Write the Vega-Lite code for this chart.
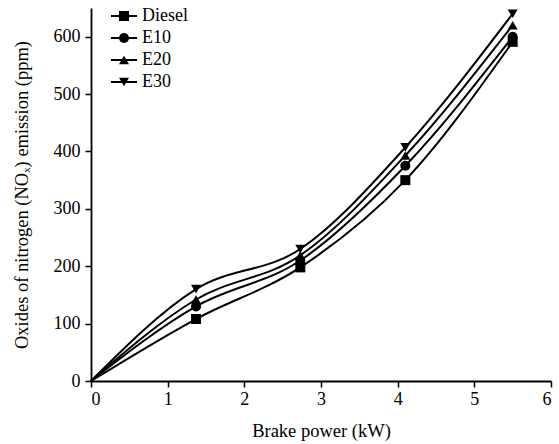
{
  "$schema": "https://vega.github.io/schema/vega-lite/v6.json",
  "width": 460,
  "height": 373,
  "autosize": {"type": "none"},
  "padding": {"left": 91, "top": 8, "right": 8, "bottom": 63},
  "background": "white",
  "config": {
    "font": "Liberation Serif",
    "view": {"stroke": null},
    "axis": {"grid": false, "domainColor": "black", "domainWidth": 1.8, "tickColor": "black", "tickWidth": 1.5, "tickSize": 6, "labelColor": "black", "labelFontSize": 18, "titleFontSize": 18.5, "titleFontWeight": "normal", "titleColor": "black", "labelFont": "Liberation Serif", "titleFont": "Liberation Serif"}
  },
  "data": {
    "values": [
      {"fuel": "Diesel", "bp": 0, "nox": 0},
      {"fuel": "Diesel", "bp": 1.37, "nox": 108},
      {"fuel": "Diesel", "bp": 2.73, "nox": 198},
      {"fuel": "Diesel", "bp": 4.1, "nox": 350},
      {"fuel": "Diesel", "bp": 5.5, "nox": 591},
      {"fuel": "E10", "bp": 0, "nox": 0},
      {"fuel": "E10", "bp": 1.37, "nox": 130},
      {"fuel": "E10", "bp": 2.73, "nox": 210},
      {"fuel": "E10", "bp": 4.1, "nox": 375},
      {"fuel": "E10", "bp": 5.5, "nox": 600},
      {"fuel": "E20", "bp": 0, "nox": 0},
      {"fuel": "E20", "bp": 1.37, "nox": 142},
      {"fuel": "E20", "bp": 2.73, "nox": 219},
      {"fuel": "E20", "bp": 4.1, "nox": 393},
      {"fuel": "E20", "bp": 5.5, "nox": 620},
      {"fuel": "E30", "bp": 0, "nox": 0},
      {"fuel": "E30", "bp": 1.37, "nox": 160},
      {"fuel": "E30", "bp": 2.73, "nox": 230},
      {"fuel": "E30", "bp": 4.1, "nox": 407},
      {"fuel": "E30", "bp": 5.5, "nox": 640}
    ]
  },
  "encoding": {
    "x": {"field": "bp", "type": "quantitative", "scale": {"domain": [0, 6], "nice": false}, "axis": {"title": "Brake power (kW)", "values": [0,1,2,3,4,5,6], "labelPadding": 3, "titlePadding": 13}},
    "y": {"field": "nox", "type": "quantitative", "scale": {"domain": [0, 650], "nice": false}, "axis": {"title": "Oxides of nitrogen (NOₓ) emission (ppm)", "values": [0,100,200,300,400,500,600], "labelPadding": 5, "titlePadding": 22}}
  },
  "layer": [
    {
      "mark": {"type": "line", "interpolate": "monotone", "strokeWidth": 2},
      "encoding": {
        "color": {"field": "fuel", "type": "nominal", "scale": {"range": ["black", "black", "black", "black"]},
          "legend": {"title": null, "orient": "none", "legendX": 24, "legendY": -1, "symbolType": "M-2.6,0H2.6", "symbolSize": 100, "symbolStrokeWidth": 2, "symbolStrokeColor": "black", "labelFontSize": 18, "labelColor": "black", "labelFont": "Liberation Serif", "rowPadding": 4, "labelOffset": 9}}
      }
    },
    {
      "transform": [{"filter": "datum.bp > 0"}],
      "mark": {"type": "point", "filled": true, "color": "black", "opacity": 1, "size": 100},
      "encoding": {
        "shape": {"field": "fuel", "type": "nominal", "scale": {"range": ["square", "circle", "triangle-up", "triangle-down"]},
          "legend": {"title": null, "orient": "none", "legendX": 24, "legendY": -1, "labelFontSize": 18, "labelOpacity": 0, "labelFont": "Liberation Serif", "symbolFillColor": "black", "symbolStrokeColor": "black", "symbolStrokeWidth": 0, "symbolSize": 100, "rowPadding": 4, "labelOffset": 9}}
      }
    }
  ]
}
